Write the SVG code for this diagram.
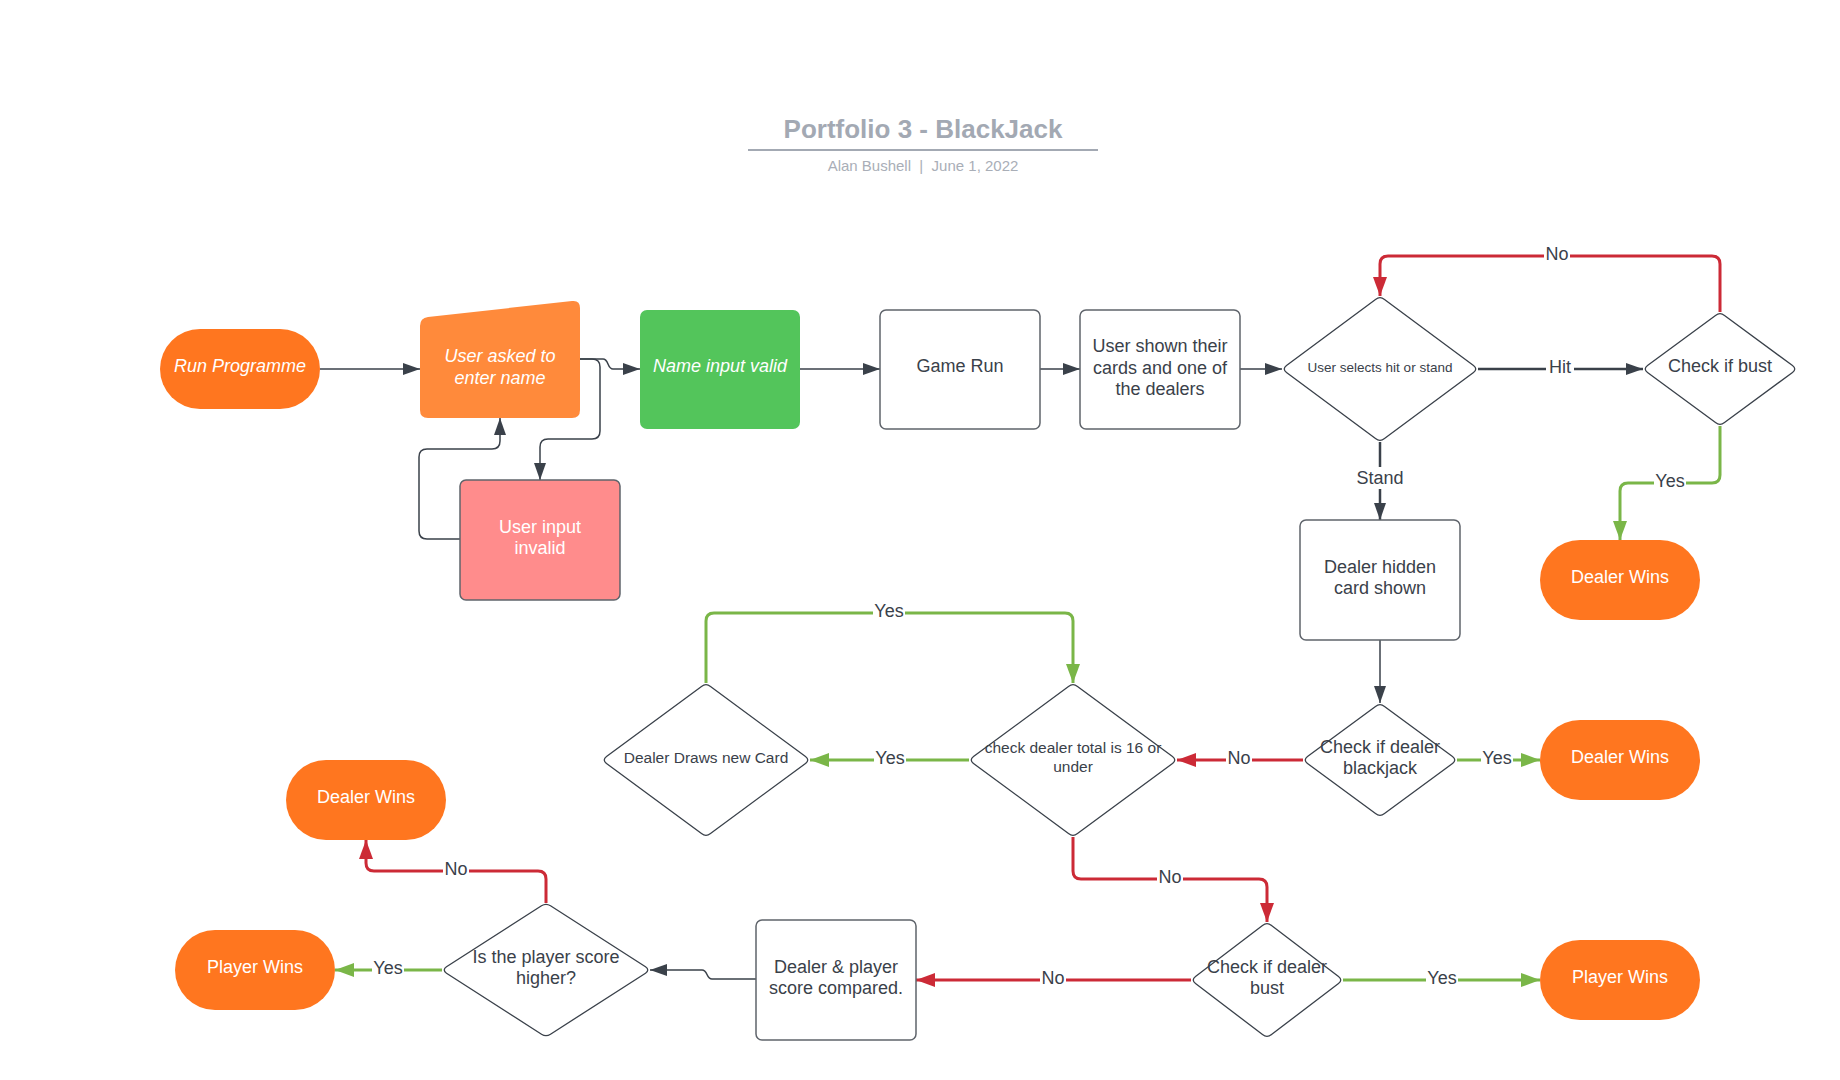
<svg xmlns="http://www.w3.org/2000/svg" width="1840" height="1080" viewBox="0 0 1840 1080">
  <style>
    text { font-family: "Liberation Sans", Arial, sans-serif; }
    .title { font-size: 26px; font-weight: bold; fill: #a3a9b3; text-anchor: middle; }
    .sub { font-size: 15px; fill: #a9aeb7; text-anchor: middle; }
    .t { font-size: 18px; fill: #3a414a; text-anchor: middle; }
    .tw { font-size: 18px; fill: #ffffff; text-anchor: middle; }
    .ti { font-size: 18px; fill: #ffffff; text-anchor: middle; font-style: italic; }
    .ts { font-size: 15.5px; fill: #3a414a; text-anchor: middle; }
    .txs { font-size: 13.5px; fill: #3a414a; text-anchor: middle; }
    .lbl { font-size: 18px; fill: #3a414a; text-anchor: middle; }
    .term { fill: #ff761f; }
    .box { fill: #ffffff; stroke: #5f646b; stroke-width: 1.5; }
    .dia { fill: #ffffff; stroke: #3a414a; stroke-width: 1.3; }
    .dk { fill: none; stroke: #3a414a; stroke-width: 1.5; }
    .dk2 { fill: none; stroke: #3a414a; stroke-width: 2.5; }
    .rd { fill: none; stroke: #cc2a36; stroke-width: 3; }
    .gr { fill: none; stroke: #7ab648; stroke-width: 3; }
    .lblbg { fill: #ffffff; }
  </style>
  <defs>
    <marker id="ahDark" markerUnits="userSpaceOnUse" markerWidth="17" markerHeight="12" refX="17" refY="6" orient="auto">
      <path d="M0,0 L17,6 L0,12 Z" fill="#3a414a"/>
    </marker>
    <marker id="ahRed" markerUnits="userSpaceOnUse" markerWidth="19" markerHeight="14" refX="19" refY="7" orient="auto">
      <path d="M0,0 L19,7 L0,14 Z" fill="#cc2a36"/>
    </marker>
    <marker id="ahGreen" markerUnits="userSpaceOnUse" markerWidth="19" markerHeight="14" refX="19" refY="7" orient="auto">
      <path d="M0,0 L19,7 L0,14 Z" fill="#7ab648"/>
    </marker>
  </defs>

  <rect width="1840" height="1080" fill="#ffffff"/>

  <!-- header -->
  <g id="header">
    <text class="title" x="923" y="138">Portfolio 3 - BlackJack</text>
    <line x1="748" y1="150" x2="1098" y2="150" stroke="#a3a9b3" stroke-width="2"/>
    <text class="sub" x="923" y="171" xml:space="preserve">Alan Bushell  |  June 1, 2022</text>
  </g>

  <!-- connectors -->
  <g id="connectors">
    <path class="dk" d="M320,369 L420,369" marker-end="url(#ahDark)"/>
    <path class="dk" d="M580,359 L603,359 C609,359 607,369 613,369 L640,369" marker-end="url(#ahDark)"/>
    <path class="dk" d="M580,359 L592,359 Q600,359 600,367 L600,431 Q600,439 592,439 L548,439 Q540,439 540,447 L540,480" marker-end="url(#ahDark)"/>
    <path class="dk" d="M460,539 L427,539 Q419,539 419,531 L419,457 Q419,449 427,449 L492,449 Q500,449 500,441 L500,418" marker-end="url(#ahDark)"/>
    <path class="dk" d="M800,369 L880,369" marker-end="url(#ahDark)"/>
    <path class="dk" d="M1040,369 L1080,369" marker-end="url(#ahDark)"/>
    <path class="dk" d="M1240,369 L1282,369" marker-end="url(#ahDark)"/>

    <path class="dk2" d="M1478,369 L1643,369" marker-end="url(#ahDark)"/>
    <rect class="lblbg" x="1546" y="358" width="28" height="22"/>
    <text class="lbl" x="1560" y="373">Hit</text>

    <path class="rd" d="M1720,312 L1720,264 Q1720,256 1712,256 L1388,256 Q1380,256 1380,264 L1380,296" marker-end="url(#ahRed)"/>
    <rect class="lblbg" x="1544" y="245" width="26" height="22"/>
    <text class="lbl" x="1557" y="260">No</text>

    <path class="gr" d="M1720,426 L1720,475 Q1720,483 1712,483 L1628,483 Q1620,483 1620,491 L1620,540" marker-end="url(#ahGreen)"/>
    <rect class="lblbg" x="1654" y="472" width="32" height="22"/>
    <text class="lbl" x="1670" y="487">Yes</text>

    <path class="dk2" d="M1380,442 L1380,520" marker-end="url(#ahDark)"/>
    <rect class="lblbg" x="1355" y="467" width="50" height="22"/>
    <text class="lbl" x="1380" y="484">Stand</text>

    <path class="dk" d="M1380,640 L1380,703" marker-end="url(#ahDark)"/>

    <path class="gr" d="M1457,760 L1540,760" marker-end="url(#ahGreen)"/>
    <rect class="lblbg" x="1481" y="749" width="32" height="22"/>
    <text class="lbl" x="1497" y="764">Yes</text>

    <path class="rd" d="M1303,760 L1177,760" marker-end="url(#ahRed)"/>
    <rect class="lblbg" x="1226" y="749" width="26" height="22"/>
    <text class="lbl" x="1239" y="764">No</text>

    <path class="gr" d="M969,760 L810,760" marker-end="url(#ahGreen)"/>
    <rect class="lblbg" x="874" y="749" width="32" height="22"/>
    <text class="lbl" x="890" y="764">Yes</text>

    <path class="gr" d="M706,683 L706,621 Q706,613 714,613 L1065,613 Q1073,613 1073,621 L1073,683" marker-end="url(#ahGreen)"/>
    <rect class="lblbg" x="873" y="602" width="32" height="22"/>
    <text class="lbl" x="889" y="617">Yes</text>

    <path class="rd" d="M1073,837 L1073,871 Q1073,879 1081,879 L1259,879 Q1267,879 1267,887 L1267,922" marker-end="url(#ahRed)"/>
    <rect class="lblbg" x="1157" y="868" width="26" height="22"/>
    <text class="lbl" x="1170" y="883">No</text>

    <path class="gr" d="M1343,980 L1540,980" marker-end="url(#ahGreen)"/>
    <rect class="lblbg" x="1426" y="969" width="32" height="22"/>
    <text class="lbl" x="1442" y="984">Yes</text>

    <path class="rd" d="M1191,980 L916,980" marker-end="url(#ahRed)"/>
    <rect class="lblbg" x="1040" y="969" width="26" height="22"/>
    <text class="lbl" x="1053" y="984">No</text>

    <path class="dk" d="M756,979 L712,979 C706,979 708,970 702,970 L650,970" marker-end="url(#ahDark)"/>

    <path class="gr" d="M442,970 L335,970" marker-end="url(#ahGreen)"/>
    <rect class="lblbg" x="372" y="959" width="32" height="22"/>
    <text class="lbl" x="388" y="974">Yes</text>

    <path class="rd" d="M546,903 L546,879 Q546,871 538,871 L374,871 Q366,871 366,863 L366,840" marker-end="url(#ahRed)"/>
    <rect class="lblbg" x="443" y="860" width="26" height="22"/>
    <text class="lbl" x="456" y="875">No</text>
  </g>

  <!-- nodes -->
  <g id="run-programme">
    <rect class="term" x="160" y="329" width="160" height="80" rx="40"/>
    <text class="ti" x="240" y="372">Run Programme</text>
  </g>

  <g id="user-asked-name">
    <path d="M420,326 Q420,318 428,317 L572,301 Q580,300 580,308 L580,410 Q580,418 572,418 L428,418 Q420,418 420,410 Z" fill="#ff8a3b"/>
    <text class="ti" x="500" y="362">User asked to</text>
    <text class="ti" x="500" y="384">enter name</text>
  </g>

  <g id="user-input-invalid">
    <rect x="460" y="480" width="160" height="120" rx="6" fill="#ff8c8c" stroke="#5f646b" stroke-width="1.5"/>
    <text class="tw" x="540" y="533">User input</text>
    <text class="tw" x="540" y="554">invalid</text>
  </g>

  <g id="name-input-valid">
    <rect x="640" y="310" width="160" height="119" rx="7" fill="#53c55b"/>
    <text class="ti" x="720" y="372">Name input valid</text>
  </g>

  <g id="game-run">
    <rect class="box" x="880" y="310" width="160" height="119" rx="6"/>
    <text class="t" x="960" y="372">Game Run</text>
  </g>

  <g id="user-shown-cards">
    <rect class="box" x="1080" y="310" width="160" height="119" rx="6"/>
    <text class="t" x="1160" y="352">User shown their</text>
    <text class="t" x="1160" y="374">cards and one of</text>
    <text class="t" x="1160" y="395">the dealers</text>
  </g>

  <g id="user-selects">
    <path class="dia" d="M1375.5,299.4 Q1380,296 1384.5,299.4 L1473.5,365.6 Q1478,369 1473.5,372.4 L1384.5,438.6 Q1380,442 1375.5,438.6 L1286.5,372.4 Q1282,369 1286.5,365.6 Z"/>
    <text class="txs" x="1380" y="372">User selects hit or stand</text>
  </g>

  <g id="check-bust">
    <path class="dia" d="M1715.5,315.4 Q1720,312 1724.5,315.4 L1792.5,365.6 Q1797,369 1792.5,372.4 L1724.5,422.6 Q1720,426 1715.5,422.6 L1647.5,372.4 Q1643,369 1647.5,365.6 Z"/>
    <text class="t" x="1720" y="372">Check if bust</text>
  </g>

  <g id="dealer-wins-bust">
    <rect class="term" x="1540" y="540" width="160" height="80" rx="40"/>
    <text class="tw" x="1620" y="583">Dealer Wins</text>
  </g>

  <g id="dealer-hidden-card">
    <rect class="box" x="1300" y="520" width="160" height="120" rx="6"/>
    <text class="t" x="1380" y="573">Dealer hidden</text>
    <text class="t" x="1380" y="594">card shown</text>
  </g>

  <g id="check-dealer-blackjack">
    <path class="dia" d="M1375.5,706.4 Q1380,703 1384.5,706.4 L1452.5,756.6 Q1457,760 1452.5,763.4 L1384.5,813.6 Q1380,817 1375.5,813.6 L1307.5,763.4 Q1303,760 1307.5,756.6 Z"/>
    <text class="t" x="1380" y="753">Check if dealer</text>
    <text class="t" x="1380" y="774">blackjack</text>
  </g>

  <g id="dealer-wins-blackjack">
    <rect class="term" x="1540" y="720" width="160" height="80" rx="40"/>
    <text class="tw" x="1620" y="763">Dealer Wins</text>
  </g>

  <g id="check-dealer-total">
    <path class="dia" d="M1068.5,686.4 Q1073,683 1077.5,686.4 L1172.5,756.6 Q1177,760 1172.5,763.4 L1077.5,833.6 Q1073,837 1068.5,833.6 L973.5,763.4 Q969,760 973.5,756.6 Z"/>
    <text class="ts" x="1073" y="753">check dealer total is 16 or</text>
    <text class="ts" x="1073" y="772">under</text>
  </g>

  <g id="dealer-draws-card">
    <path class="dia" d="M701.5,686.4 Q706,683 710.5,686.4 L805.5,756.6 Q810,760 805.5,763.4 L710.5,833.6 Q706,837 701.5,833.6 L606.5,763.4 Q602,760 606.5,756.6 Z"/>
    <text class="ts" x="706" y="763">Dealer Draws new Card</text>
  </g>

  <g id="check-dealer-bust">
    <path class="dia" d="M1262.5,925.4 Q1267,922 1271.5,925.4 L1338.5,976.6 Q1343,980 1338.5,983.4 L1271.5,1034.6 Q1267,1038 1262.5,1034.6 L1195.5,983.4 Q1191,980 1195.5,976.6 Z"/>
    <text class="t" x="1267" y="973">Check if dealer</text>
    <text class="t" x="1267" y="994">bust</text>
  </g>

  <g id="player-wins-bust">
    <rect class="term" x="1540" y="940" width="160" height="80" rx="40"/>
    <text class="tw" x="1620" y="983">Player Wins</text>
  </g>

  <g id="scores-compared">
    <rect class="box" x="756" y="920" width="160" height="120" rx="6"/>
    <text class="t" x="836" y="973">Dealer &amp; player</text>
    <text class="t" x="836" y="994">score compared.</text>
  </g>

  <g id="player-score-higher">
    <path class="dia" d="M541.5,905.8 Q546,903 550.5,905.8 L645.5,966.8 Q650,970 645.5,973.2 L550.5,1034.2 Q546,1037 541.5,1034.2 L446.5,973.2 Q442,970 446.5,966.8 Z"/>
    <text class="t" x="546" y="963">Is the player score</text>
    <text class="t" x="546" y="984">higher?</text>
  </g>

  <g id="dealer-wins-score">
    <rect class="term" x="286" y="760" width="160" height="80" rx="40"/>
    <text class="tw" x="366" y="803">Dealer Wins</text>
  </g>

  <g id="player-wins-score">
    <rect class="term" x="175" y="930" width="160" height="80" rx="40"/>
    <text class="tw" x="255" y="973">Player Wins</text>
  </g>
</svg>
